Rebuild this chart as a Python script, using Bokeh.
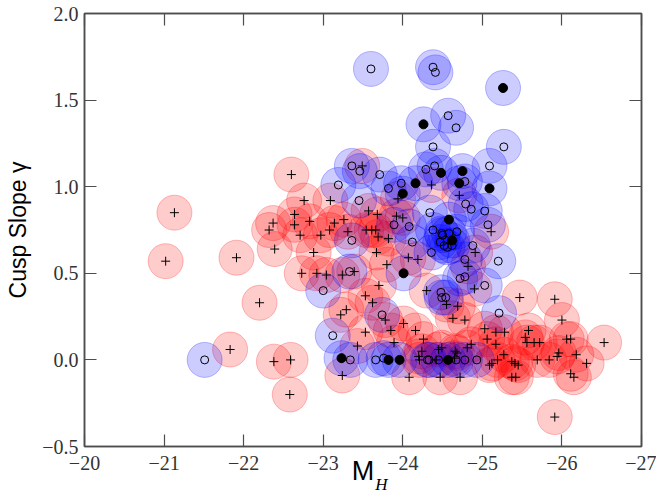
from bokeh.plotting import figure
from bokeh.models import Range1d, LinearAxis, FixedTicker
from bokeh.embed import file_html
from bokeh.resources import INLINE

# ---- data ----
red_mh = [-21.13, -21.02, -21.91, -22.20, -21.83, -22.38, -22.59, -22.58, -22.60, -22.76,
          -23.09, -22.64, -22.37, -22.32, -22.64, -22.83, -22.71, -22.97, -23.08, -23.14,
          -23.26, -23.31, -22.39, -22.88, -22.73, -22.92, -23.04, -23.24, -23.39, -23.29,
          -23.22, -23.24, -23.43, -23.49, -23.57, -23.68, -23.92, -24.00, -23.54, -23.61,
          -23.66, -23.69, -23.82, -23.67, -24.07, -24.19, -23.80, -23.94, -24.36, -24.71,
          -25.11, -24.91, -24.82, -23.70, -24.90, -24.30, -24.55, -24.69, -24.63, -24.78,
          -25.47, -25.91, -26.00, -23.53, -23.62, -23.78, -23.85, -24.01, -24.16, -24.26,
          -23.53, -23.89, -25.03, -25.17, -25.28, -25.06, -25.17, -25.58, -25.54, -25.56,
          -25.65, -25.72, -26.06, -26.11, -26.53, -24.24, -24.20, -24.45, -24.49, -24.66,
          -24.68, -24.81, -24.86, -24.42, -24.65, -25.12, -25.19, -25.27, -25.37, -25.41,
          -25.45, -25.69, -25.84, -25.94, -25.96, -26.18, -26.31, -24.08, -24.47, -24.72,
          -25.37, -25.42, -26.11, -26.15, -25.91, -24.21, -25.09]
red_gamma = [0.85, 0.57, 0.59, 0.33, 0.06, -0.01, 0.00, -0.20, 1.07, 0.92,
             0.92, 0.84, 0.79, 0.75, 0.78, 0.80, 0.72, 0.72, 0.75, 0.79,
             0.81, 0.74, 0.64, 0.62, 0.50, 0.50, 0.49, 0.49, 0.51, 0.29,
             0.26, -0.09, 0.08, 1.12, 0.86, 0.84, 0.83, 0.82, 0.75, 0.75,
             0.75, 0.71, 0.70, 0.62, 0.59, 0.58, 0.55, 0.93, 1.01, 0.95,
             0.74, 0.62, 0.54, 0.43, 0.41, 0.40, 0.32, 0.31, 0.24, 0.23,
             0.36, 0.35, 0.23, 0.37, 0.33, 0.23, 0.17, 0.21, 0.17, 0.12,
             0.16, 0.10, 0.18, 0.16, 0.16, 0.12, 0.09, 0.17, 0.13, 0.10,
             0.10, 0.10, 0.12, 0.12, 0.10, 0.05, 0.02, 0.06, 0.07, 0.05,
             0.04, 0.07, 0.09, 0.00, 0.01, -0.02, 0.00, 0.03, -0.01, -0.02,
             -0.03, 0.00, 0.00, 0.02, 0.04, 0.03, -0.02, -0.10, -0.10, -0.10,
             -0.10, -0.10, -0.08, -0.10, -0.33, 0.00, -0.03]

blue_open_mh = [-23.60, -24.38, -24.41, -24.57, -24.67, -24.38, -25.27, -25.09, -24.40, -24.29,
                -24.78, -23.98, -23.82, -23.71, -24.79, -24.86, -25.03, -24.34, -25.07, -24.08,
                -23.89, -24.38, -24.68, -24.12, -24.88, -23.36, -23.46, -23.19, -23.45, -23.36,
                -24.36, -24.78, -25.20, -24.72, -24.78, -25.03, -24.48, -24.49, -24.54, -25.21,
                -23.74, -23.00, -23.33, -23.12, -21.51, -23.34, -23.66, -23.76, -24.31, -24.33,
                -24.45, -24.67, -24.78, -24.93, -24.50, -24.47, -24.52, -24.56, -24.62, -24.58,
                -24.49]
blue_open_gamma = [1.68, 1.69, 1.66, 1.41, 1.34, 1.23, 1.23, 1.12, 1.12, 1.10,
                   1.03, 1.02, 0.99, 1.07, 0.90, 0.87, 0.86, 0.85, 0.78, 0.77,
                   0.78, 0.75, 0.74, 0.68, 0.66, 1.12, 1.09, 1.01, 0.92, 0.69,
                   0.62, 0.58, 0.57, 0.47, 0.48, 0.43, 0.39, 0.36, 0.36, 0.27,
                   0.26, 0.40, 0.51, 0.14, 0.00, 0.00, 0.00, 0.01, 0.00, 0.00,
                   0.00, 0.00, 0.00, 0.00, 0.72, 0.68, 0.66, 0.65, 0.66, 0.73,
                   0.73]

blue_core_mh = [-25.26, -24.26, -24.48, -24.75, -24.71, -24.16, -25.09, -24.00, -24.58, -24.62,
                -24.01, -23.23, -23.82, -23.96, -24.57]
blue_core_gamma = [1.57, 1.36, 1.08, 1.09, 1.02, 1.02, 0.99, 0.96, 0.81, 0.69,
                   0.50, 0.01, 0.00, 0.00, 0.00]

x_ticks = [-20, -21, -22, -23, -24, -25, -26, -27]
x_tick_labels = ["\u221220", "\u221221", "\u221222", "\u221223", "\u221224", "\u221225", "\u221226", "\u221227"]
y_ticks = [-0.5, 0.0, 0.5, 1.0, 1.5, 2.0]
y_tick_labels = ["\u22120.5", "0.0", "0.5", "1.0", "1.5", "2.0"]
x_title = "M"
x_title_sub = "H"
y_title = "Cusp Slope \u03b3"

AX = "#4d4d4d"

p = figure(width=656, height=498,
           x_range=Range1d(-20, -27), y_range=Range1d(-0.5, 2.0),
           output_backend="svg", toolbar_location=None,
           min_border_left=84, min_border_right=15, min_border_top=13, min_border_bottom=52)
p.background_fill_color = "white"
p.border_fill_color = "white"
p.grid.visible = False
p.outline_line_color = AX
p.outline_line_width = 1.5


def style_axis(ax, ticks, labels, show):
    ax.ticker = FixedTicker(ticks=ticks)
    ax.major_label_overrides = {t: l for t, l in zip(ticks, labels)}
    ax.major_tick_in = 12
    ax.major_tick_out = 0
    ax.minor_tick_in = 0
    ax.minor_tick_out = 0
    ax.major_tick_line_color = AX
    ax.major_tick_line_width = 1.2
    ax.axis_line_color = AX
    ax.axis_line_width = 1.5
    if show:
        ax.major_label_text_font = "Liberation Serif"
        ax.major_label_text_font_size = "20px"
        ax.major_label_text_color = "#333333"
    else:
        ax.major_label_text_font_size = "1px"
        ax.major_label_text_color = None
        ax.major_label_standoff = 0


style_axis(p.xaxis[0], x_ticks, x_tick_labels, True)
p.xaxis[0].major_label_standoff = 9
p.xaxis[0].axis_label = x_title
p.xaxis[0].axis_label_text_font = "Liberation Sans"
p.xaxis[0].axis_label_text_font_size = "27px"
p.xaxis[0].axis_label_text_font_style = "normal"
p.xaxis[0].axis_label_text_color = "black"
p.xaxis[0].axis_label_standoff = -17

style_axis(p.yaxis[0], y_ticks, y_tick_labels, True)
p.yaxis[0].major_label_standoff = 6

top = LinearAxis()
style_axis(top, x_ticks, x_tick_labels, False)
p.add_layout(top, "above")
right = LinearAxis()
style_axis(right, y_ticks, y_tick_labels, False)
p.add_layout(right, "right")

# subscript of the x title, as a lone tick label of a bare axis
sub_axis = LinearAxis(ticker=FixedTicker(ticks=[-23.73]),
                      major_label_overrides={-23.73: x_title_sub},
                      axis_line_color=None, major_tick_line_color=None, minor_tick_line_color=None,
                      major_label_text_font="Liberation Serif", major_label_text_font_style="italic",
                      major_label_text_font_size="17px", major_label_text_color="black",
                      major_label_standoff=-20)
p.add_layout(sub_axis, "below")

# y title on a bare axis whose bounds centre it like the reference
ylab_axis = LinearAxis(ticker=FixedTicker(ticks=[]), bounds=(0.2, 1.536),
                       axis_line_color=None, major_tick_line_color=None, minor_tick_line_color=None,
                       major_label_text_font_size="1px", major_label_text_color=None,
                       major_label_standoff=0,
                       axis_label=y_title, axis_label_text_font="Liberation Sans",
                       axis_label_text_font_size="23px", axis_label_text_font_style="normal",
                       axis_label_text_color="black", axis_label_standoff=9)
p.add_layout(ylab_axis, "left")

# big translucent discs
p.scatter(red_mh, red_gamma, size=35, fill_color="red", fill_alpha=0.2,
          line_color="red", line_alpha=0.25, line_width=1)
p.scatter(blue_open_mh + blue_core_mh, blue_open_gamma + blue_core_gamma, size=35,
          fill_color="blue", fill_alpha=0.2, line_color="blue", line_alpha=0.25, line_width=1)

# inner markers
p.scatter(red_mh, red_gamma, marker="cross", size=9, line_color="black", line_width=1)
p.scatter(blue_open_mh, blue_open_gamma, marker="circle", size=8, fill_color=None,
          line_color="black", line_width=1)
p.scatter(blue_core_mh, blue_core_gamma, marker="circle", size=9, fill_color="black",
          line_color="black")

open("out.html", "w").write(file_html(p, INLINE))
